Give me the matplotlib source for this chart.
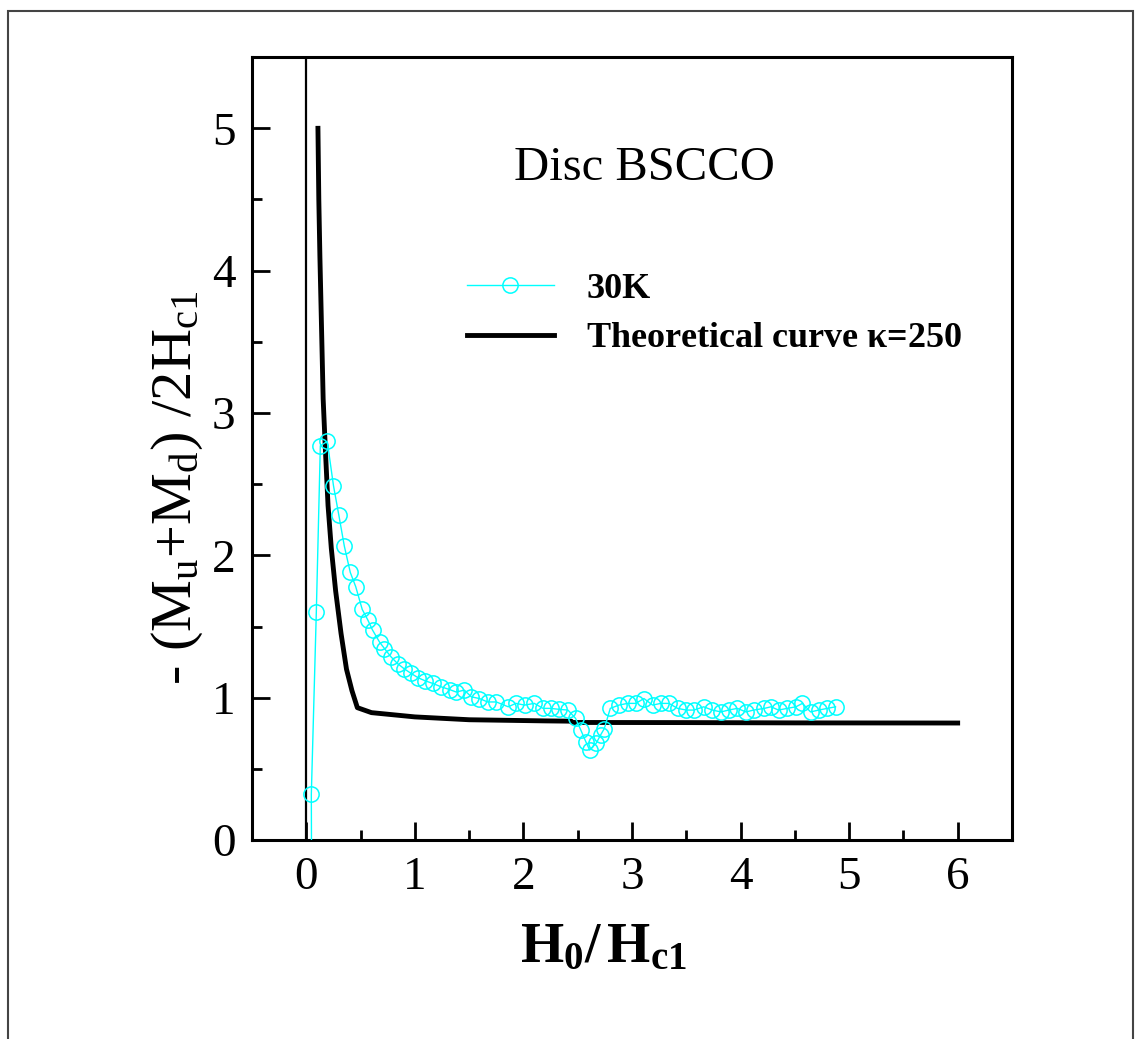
import numpy as np
import matplotlib
matplotlib.use("Agg")
import matplotlib.pyplot as plt
from matplotlib.patches import Rectangle
from matplotlib.ticker import MultipleLocator

plt.rcParams["font.family"] = ["Liberation Serif", "DejaVu Serif"]
plt.rcParams["mathtext.fontset"] = "custom"
plt.rcParams["mathtext.rm"] = "Liberation Serif"
plt.rcParams["mathtext.it"] = "Liberation Serif:italic"
plt.rcParams["mathtext.bf"] = "Liberation Serif:bold"

# 30K measured data
h_30k = [0.05, 0.046, 0.092, 0.129, 0.193, 0.25, 0.30, 0.35, 0.405, 0.455, 0.515,
         0.567, 0.61, 0.675, 0.72, 0.78, 0.84, 0.90, 0.966, 1.03, 1.09, 1.165,
         1.24, 1.32, 1.38, 1.456, 1.52, 1.595, 1.67, 1.75, 1.86, 1.93, 2.01,
         2.10, 2.18, 2.25, 2.33, 2.41, 2.48, 2.53, 2.575, 2.61, 2.67, 2.71,
         2.745, 2.80, 2.88, 2.96, 3.035, 3.11, 3.19, 3.265, 3.34, 3.42, 3.50,
         3.57, 3.66, 3.74, 3.82, 3.89, 3.97, 4.05, 4.12, 4.22, 4.28, 4.35,
         4.43, 4.51, 4.57, 4.645, 4.72, 4.80, 4.875]
m_30k = [-0.6, 0.32, 1.60, 2.77, 2.80, 2.49, 2.28, 2.065, 1.88, 1.78, 1.62,
         1.545, 1.475, 1.39, 1.345, 1.287, 1.24, 1.204, 1.17, 1.14, 1.12, 1.10,
         1.077, 1.057, 1.04, 1.053, 1.006, 0.994, 0.97, 0.97, 0.936, 0.96, 0.948,
         0.96, 0.925, 0.925, 0.918, 0.913, 0.855, 0.77, 0.69, 0.632, 0.68, 0.737,
         0.783, 0.925, 0.948, 0.96, 0.96, 0.994, 0.948, 0.96, 0.96, 0.925, 0.913,
         0.913, 0.936, 0.913, 0.90, 0.913, 0.925, 0.90, 0.913, 0.925, 0.936, 0.913,
         0.925, 0.936, 0.96, 0.90, 0.913, 0.925, 0.936]

# theoretical curve, kappa = 250
h_theory = [0.107, 0.115, 0.125, 0.14, 0.155, 0.175, 0.20, 0.23, 0.27, 0.32,
            0.37, 0.42, 0.47, 0.60, 1.0, 1.5, 2.2, 2.44, 2.45, 3.5, 4.5, 6.0]
m_theory = [5.0, 4.5, 4.1, 3.6, 3.1, 2.75, 2.35, 2.05, 1.75, 1.45,
            1.2, 1.05, 0.93, 0.895, 0.865, 0.845, 0.837, 0.835, 0.826, 0.825,
            0.823, 0.822]

fig = plt.figure(figsize=(11.41, 10.39), dpi=100)
ax = fig.add_axes([0.2209, 0.1915, 0.666, 0.7535])

# outer frame around the whole picture
fig.patches.append(Rectangle((8 / 1141, -0.05), 1125 / 1141, 1.05 - 11 / 1039,
                             transform=fig.transFigure, fill=False,
                             edgecolor="#444444", linewidth=1.5))

ax.axvline(0, color="black", linewidth=1.6, zorder=1)
ax.plot(h_30k, m_30k, color="cyan", linewidth=1.0, marker="o", markersize=11,
        markerfacecolor="none", markeredgecolor="cyan", markeredgewidth=1.1,
        label="30K", zorder=3)
ax.plot(h_theory, m_theory, color="black", linewidth=3.5,
        label=r"Theoretical curve $\mathbf{\kappa}$=250", zorder=2)

ax.set_xlim(-0.5, 6.5)
ax.set_ylim(0, 5.5)
ax.xaxis.set_major_locator(MultipleLocator(1))
ax.xaxis.set_minor_locator(MultipleLocator(0.5))
ax.yaxis.set_major_locator(MultipleLocator(1))
ax.yaxis.set_minor_locator(MultipleLocator(0.5))
ax.tick_params(which="both", direction="in", top=False, right=False, width=2)
ax.tick_params(which="major", length=13, labelsize=34, pad=12)
ax.tick_params(which="minor", length=7)
for spine in ax.spines.values():
    spine.set_linewidth(2.2)

ax.set_xlabel(r"$\mathbf{H_0/\,H_{c1}}$", fontsize=40)
ax.xaxis.set_label_coords(0.462, -0.105)
ax.set_ylabel(r"- (M$_\mathrm{u}$+M$_\mathrm{d}$) /2H$_\mathrm{c1}$", fontsize=42)
ax.yaxis.set_label_coords(-0.062, 0.45)

ax.text(0.517, 0.858, "Disc BSCCO", transform=ax.transAxes, fontsize=35,
        ha="center", va="center")

ax.legend(loc="upper left", bbox_to_anchor=(0.283, 0.725), frameon=False,
          numpoints=1, handlelength=2.4, handletextpad=0.9, labelspacing=0.45,
          borderpad=0, borderaxespad=0,
          prop={"size": 26, "weight": "bold"})

fig.savefig("out.png", dpi=100)
